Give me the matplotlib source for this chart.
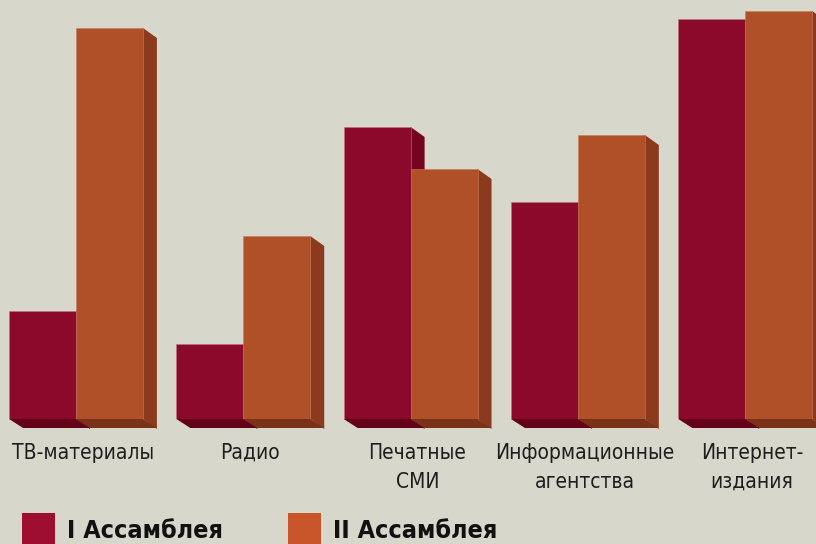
import numpy as np
import matplotlib.pyplot as plt
from matplotlib.patches import Polygon, Rectangle

categories = ["ТВ-материалы", "Радио", "Печатные\nСМИ", "Информационные\nагентства", "Интернет-\nиздания"]
series_names = ["I Ассамблея", "II Ассамблея"]
assembly_1 = [108, 75, 292, 217, 400]
assembly_2 = [391, 183, 250, 284, 408]

front = ["#8b0a2b", "#b05028"]
side = ["#74041f", "#8c3a1e"]
bottom = ["#640017", "#7a3318"]
legend_col = ["#9e0e2e", "#c8552a"]
bg = "#d7d7cc"

plt.rcParams['font.family'] = ['DejaVu Sans']
plt.rcParams['font.stretch'] = 'condensed'

fig = plt.figure(figsize=(8.16, 5.44), dpi=100, facecolor=bg)
ax = fig.add_axes([0, 125/544, 1, 419/544])
ax.set_facecolor(bg)
step = 167.3  # pixels per group
ax.set_xlim(-76/step, 740/step)
ax.set_ylim(0, 419)
ax.axis("off")

w = 0.4
dx = 14/step
dy = 10
x = np.arange(len(categories))

for k, vals in enumerate([assembly_1, assembly_2]):
    lefts = x - w + k*w
    for xl, v in zip(lefts, vals):
        # side face
        ax.add_patch(Polygon([(xl+w, v), (xl+w+dx, v-dy), (xl+w+dx, -dy), (xl+w, 0)],
                             closed=True, fc=side[k], ec="none", clip_on=False))
        # bottom face
        ax.add_patch(Polygon([(xl, 0), (xl+w, 0), (xl+w+dx, -dy+1), (xl+dx, -dy+1)],
                             closed=True, fc=bottom[k], ec="none", clip_on=False))
    ax.bar(lefts, vals, width=w, align="edge", color=front[k],
           edgecolor="#c07080" if k == 0 else "#c87a58", linewidth=0.4, zorder=2)

for xi, lab in zip(x, categories):
    ax.text(xi + 0.04, -24, lab, ha="center", va="top", fontsize=15,
            color="#1e1e1e", linespacing=1.55, clip_on=False)

for i, (name, xs) in enumerate(zip(series_names, [22, 288])):
    fig.patches.append(Rectangle((xs/816, 0), 33/816, 31/544, transform=fig.transFigure,
                                 fc=legend_col[i], ec="none"))
    fig.text((xs + 45)/816, 1/544, name, fontsize=18, fontweight="bold",
             color="#111111", ha="left", va="bottom")

fig.savefig("out.png", dpi=100, facecolor=bg)
